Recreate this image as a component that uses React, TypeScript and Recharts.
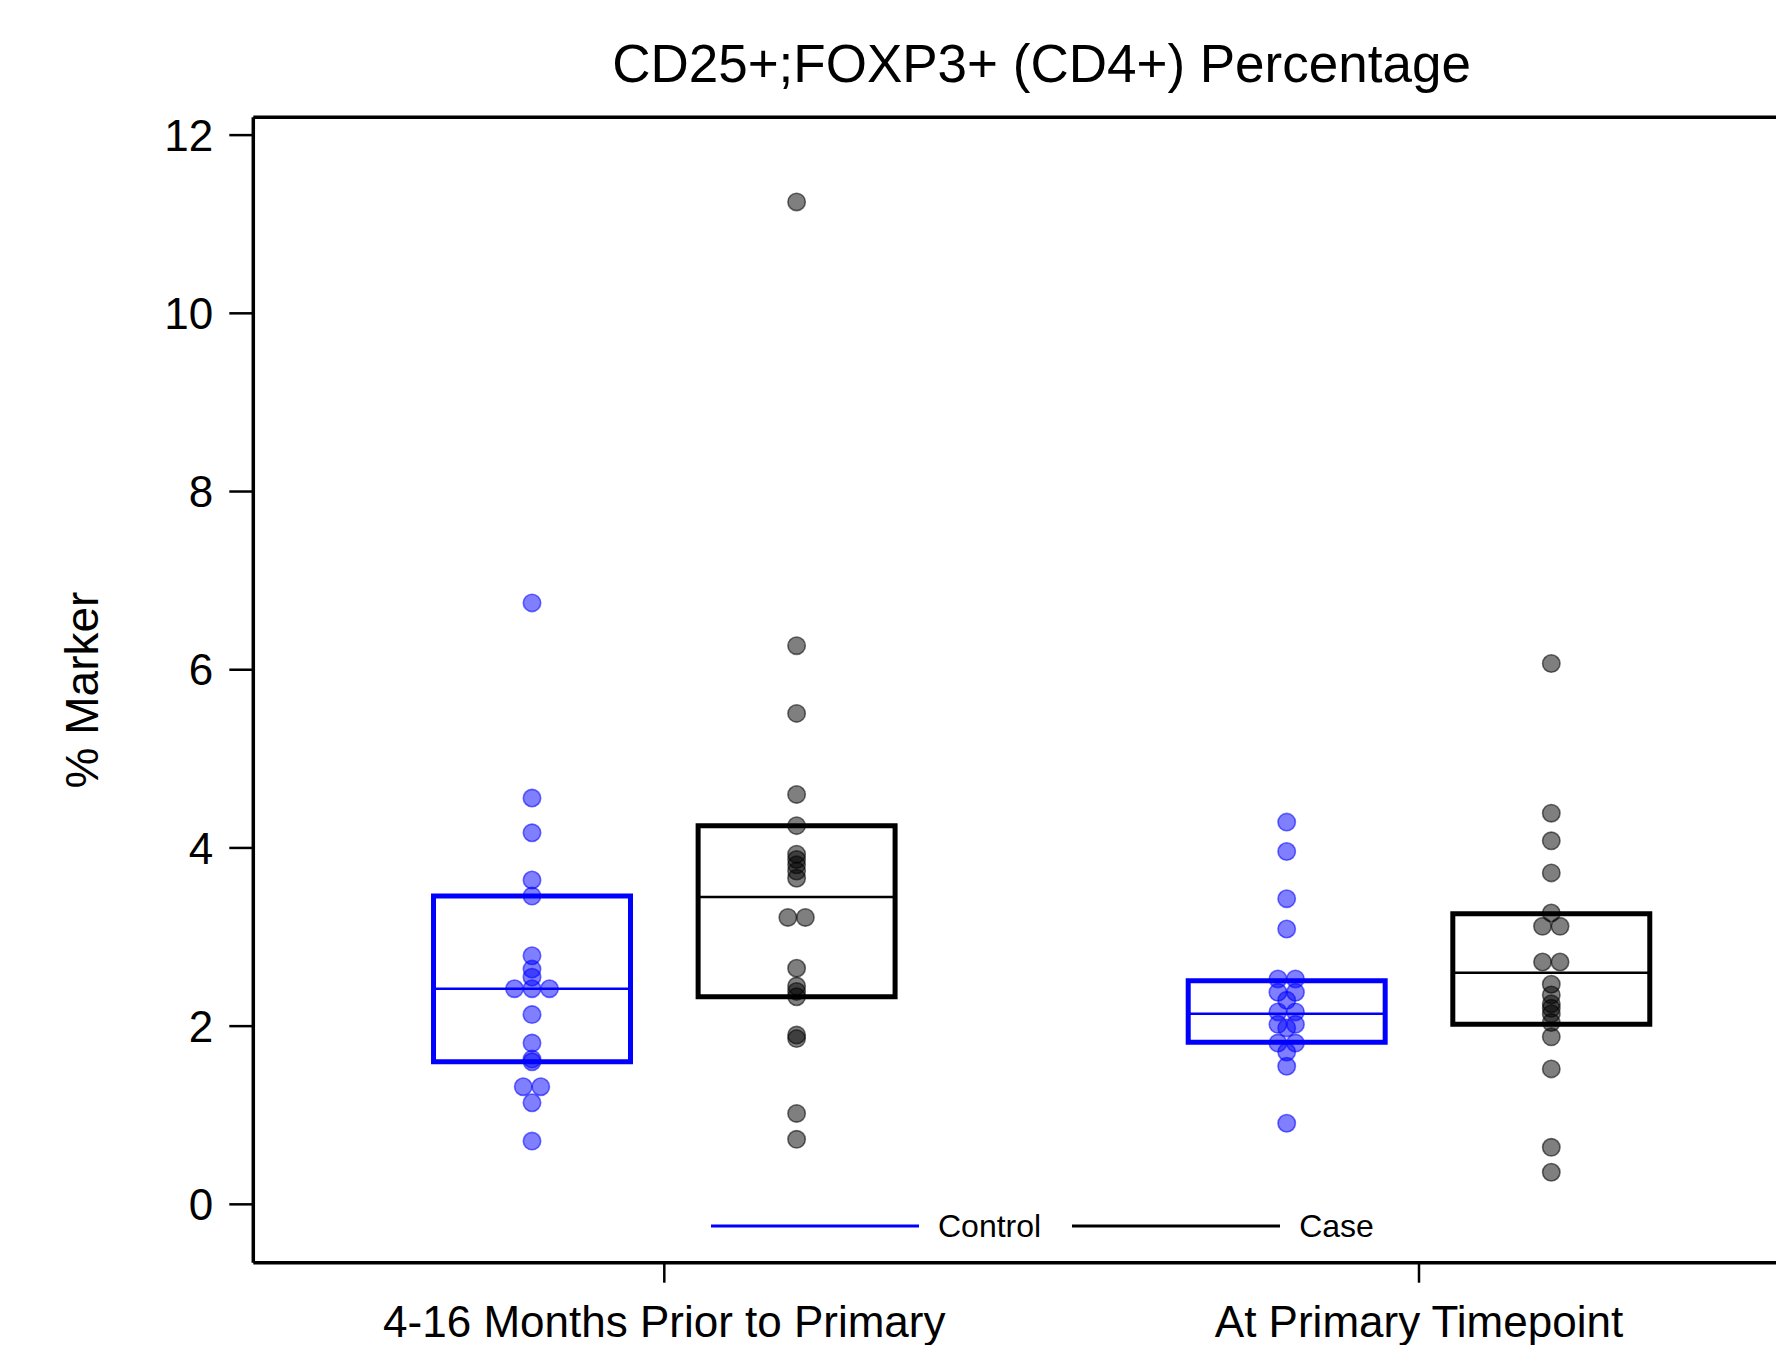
import {
  ComposedChart,
  Scatter,
  XAxis,
  YAxis,
  ReferenceArea,
  ReferenceLine,
  Legend,
} from 'recharts';

const categories = ['4-16 Months Prior to Primary', 'At Primary Timepoint'];

// % marker per subject
const controlPrior = [6.75, 4.56, 4.17, 3.64, 3.46, 2.79, 2.64, 2.55, 2.42, 2.42, 2.42, 2.13, 1.81, 1.63, 1.6, 1.32, 1.32, 1.14, 0.71];
const casePrior = [11.25, 6.27, 5.51, 4.6, 4.25, 3.93, 3.87, 3.81, 3.74, 3.66, 3.22, 3.22, 2.65, 2.45, 2.39, 2.33, 1.9, 1.86, 1.02, 0.73];
const controlPrimary = [4.29, 3.96, 3.43, 3.09, 2.53, 2.53, 2.38, 2.38, 2.29, 2.16, 2.16, 2.02, 2.02, 1.98, 1.81, 1.81, 1.71, 1.55, 0.91];
const casePrimary = [6.07, 4.39, 4.08, 3.72, 3.27, 3.12, 3.12, 2.72, 2.72, 2.47, 2.35, 2.25, 2.2, 2.14, 2.04, 1.88, 1.52, 0.64, 0.36];

// box stats per category (prior, primary)
const controlQ1 = [1.6, 1.82];
const controlMedian = [2.42, 2.14];
const controlQ3 = [3.46, 2.51];
const caseQ1 = [2.33, 2.02];
const caseMedian = [3.45, 2.6];
const caseQ3 = [4.25, 3.26];

const yTicks = [0, 2, 4, 6, 8, 10, 12];

const FONT = '"Liberation Sans", Arial, sans-serif';
const BLUE = '#0000ff';
const BLACK = '#000000';

const X_MIN = 0.4554;
const X_MAX = 2.5446;
const Y_MIN = -0.655;
const Y_MAX = 12.2;
const GROUP_OFFSET = 0.1753;
const BOX_HALF = 0.1305;
const JITTER = 0.0232;

// SAS-style jitter: identical values spread side by side
function jitter(values: number[], center: number) {
  const byValue = new Map<string, number[]>();
  values.forEach((v) => {
    const k = v.toFixed(2);
    if (!byValue.has(k)) byValue.set(k, []);
    byValue.get(k)!.push(v);
  });
  const out: { x: number; y: number }[] = [];
  byValue.forEach((vals) => {
    const n = vals.length;
    vals.forEach((v, i) => {
      out.push({ x: center + (i - (n - 1) / 2) * JITTER, y: v });
    });
  });
  return out;
}

const controlPoints = [
  ...jitter(controlPrior, 1 - GROUP_OFFSET),
  ...jitter(controlPrimary, 2 - GROUP_OFFSET),
];
const casePoints = [
  ...jitter(casePrior, 1 + GROUP_OFFSET),
  ...jitter(casePrimary, 2 + GROUP_OFFSET),
];

const boxes = [
  { color: BLUE, offset: -GROUP_OFFSET, q1: controlQ1, med: controlMedian, q3: controlQ3 },
  { color: BLACK, offset: GROUP_OFFSET, q1: caseQ1, med: caseMedian, q3: caseQ3 },
];

const legendItems = [
  { name: 'Control', color: BLUE },
  { name: 'Case', color: BLACK },
];

const makeDot = (color: string) => (props: any) => (
  <circle
    cx={props.cx}
    cy={props.cy}
    r={8.7}
    fill={color}
    fillOpacity={0.5}
    stroke={color}
    strokeOpacity={0.55}
    strokeWidth={1.6}
  />
);

const renderLegend = () => (
  <div
    style={{
      display: 'flex',
      alignItems: 'center',
      height: 46,
      paddingLeft: 711,
      fontFamily: FONT,
      fontSize: 32,
      color: '#000',
    }}
  >
    {legendItems.map((item, i) => (
      <div key={item.name} style={{ display: 'flex', alignItems: 'center', marginLeft: i ? 31 : 0 }}>
        <svg width={208} height={6}>
          <line x1={0} y1={3} x2={208} y2={3} stroke={item.color} strokeWidth={3} />
        </svg>
        <span style={{ marginLeft: 19 }}>{item.name}</span>
      </div>
    ))}
  </div>
);

export default function App() {
  return (
    <div
      style={{
        position: 'absolute',
        left: 0,
        top: 0,
        width: 1776,
        height: 1345,
        overflow: 'hidden',
        background: '#fff',
        fontFamily: FONT,
      }}
    >
      <div
        style={{
          position: 'absolute',
          left: 1041.5,
          top: 36.6,
          transform: 'translateX(-50%)',
          fontSize: 53,
          lineHeight: '53px',
          whiteSpace: 'nowrap',
          color: '#000',
        }}
      >
        CD25+;FOXP3+ (CD4+) Percentage
      </div>
      <div
        style={{
          position: 'absolute',
          left: 82 - 200,
          top: 690 - 23,
          width: 400,
          height: 46,
          textAlign: 'center',
          fontSize: 46,
          lineHeight: '46px',
          whiteSpace: 'nowrap',
          transform: 'rotate(-90deg)',
          color: '#000',
        }}
      >
        % Marker
      </div>
      <ComposedChart
        width={1840}
        height={1345}
        margin={{ top: 117.3, right: 10, bottom: 22.3, left: 53.3 }}
      >
        <XAxis
          type="number"
          dataKey="x"
          domain={[X_MIN, X_MAX]}
          allowDataOverflow
          ticks={[1, 2]}
          interval={0}
          tickFormatter={(v: number) => categories[v - 1]}
          height={60}
          tickSize={20}
          tickMargin={23}
          axisLine={{ stroke: '#000', strokeWidth: 3.5 }}
          tickLine={{ stroke: '#000', strokeWidth: 2.5 }}
          tick={{ fill: '#000', fontSize: 44, fontFamily: FONT }}
        />
        <YAxis
          type="number"
          dataKey="y"
          domain={[Y_MIN, Y_MAX]}
          allowDataOverflow
          ticks={yTicks}
          interval={0}
          width={200}
          tickSize={24}
          tickMargin={16}
          axisLine={{ stroke: '#000', strokeWidth: 3.5 }}
          tickLine={{ stroke: '#000', strokeWidth: 2.5 }}
          tick={{ fill: '#000', fontSize: 44, fontFamily: FONT }}
        />
        <ReferenceLine y={Y_MAX} stroke="#000" strokeWidth={3.5} ifOverflow="visible" />
        <Scatter
          name="Control"
          data={controlPoints}
          shape={makeDot(BLUE)}
          isAnimationActive={false}
        />
        <Scatter
          name="Case"
          data={casePoints}
          shape={makeDot(BLACK)}
          isAnimationActive={false}
        />
        {boxes.map((b) =>
          categories.map((_, ci) => {
            const c = ci + 1 + b.offset;
            return (
              <ReferenceArea
                key={`box-${b.color}-${ci}`}
                x1={c - BOX_HALF}
                x2={c + BOX_HALF}
                y1={b.q1[ci]}
                y2={b.q3[ci]}
                fill="none"
                fillOpacity={0}
                stroke={b.color}
                strokeWidth={5}
                ifOverflow="visible"
              />
            );
          })
        )}
        {boxes.map((b) =>
          categories.map((_, ci) => {
            const c = ci + 1 + b.offset;
            return (
              <ReferenceLine
                key={`med-${b.color}-${ci}`}
                segment={[
                  { x: c - BOX_HALF, y: b.med[ci] },
                  { x: c + BOX_HALF, y: b.med[ci] },
                ]}
                stroke={b.color}
                strokeWidth={2.5}
                ifOverflow="visible"
              />
            );
          })
        )}
        <Legend
          verticalAlign="middle"
          align="center"
          content={renderLegend}
          wrapperStyle={{ position: 'absolute', left: 0, top: 1203, width: 1776, height: 46, margin: 0 }}
        />
      </ComposedChart>
    </div>
  );
}
